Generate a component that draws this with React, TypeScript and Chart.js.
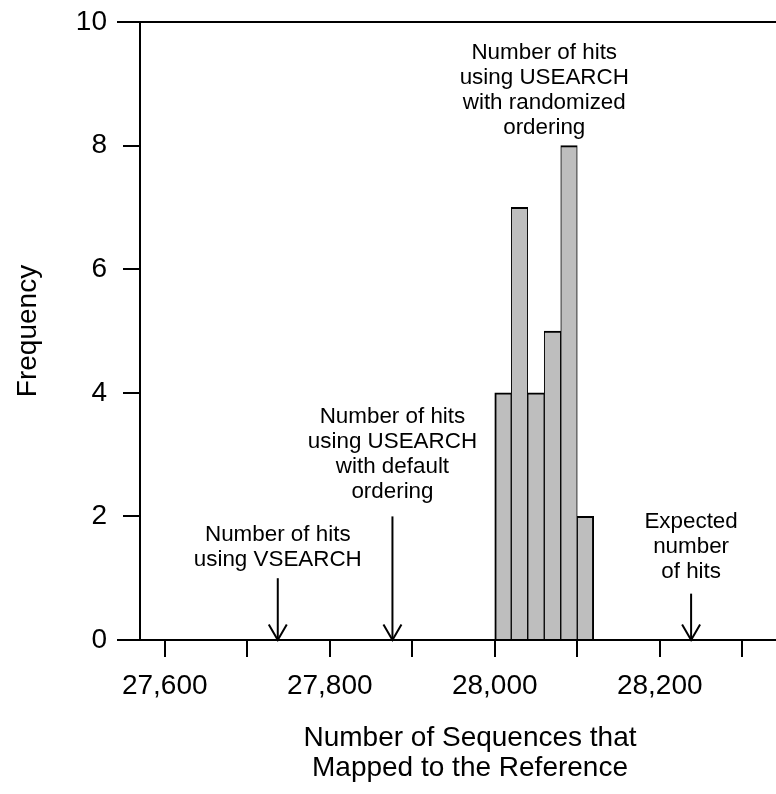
import React, { useEffect, useRef } from "react";
import { Chart, registerables } from "chart.js";

Chart.register(...registerables);

// ---- data ----
const BIN_CENTERS = [28010, 28030, 28050, 28070, 28090, 28110];
const FREQUENCIES = [4, 7, 4, 5, 8, 2];
const X_TICKS = [27600, 27700, 27800, 27900, 28000, 28100, 28200, 28300];
const X_TICK_LABELS = ["27,600", "", "27,800", "", "28,000", "", "28,200", ""];
const Y_TICKS = [0, 2, 4, 6, 8, 10];
const X_MIN = 27570;
const X_MAX = 28370;
const Y_MIN = 0;
const Y_MAX = 10;

const X_TITLE = ["Number of Sequences that", "Mapped to the Reference"];
const Y_TITLE = "Frequency";

const ANNOT_X = [27737, 27876, 28060, 28238];
const ANNOT_TEXT_Y = [1.5, 3.0, 8.9, 1.5];
const ARROW_TOP: (number | null)[] = [1, 2, null, 0.75];
const ANNOT_LINES = [
  ["Number of hits", "using VSEARCH"],
  ["Number of hits", "using USEARCH", "with default", "ordering"],
  ["Number of hits", "using USEARCH", "with randomized", "ordering"],
  ["Expected", "number", "of hits"],
];

const FONT = "'Liberation Sans', Arial, Helvetica, sans-serif";

const annotationPlugin = {
  id: "histAnnotations",
  afterDatasetsDraw(chart: any) {
    const { ctx, chartArea } = chart;
    const xs = chart.scales.x;
    const ys = chart.scales.y;
    ctx.save();
    ctx.strokeStyle = "#000";
    ctx.fillStyle = "#000";
    ctx.lineWidth = 2;
    // frame lines at bottom and top
    [Y_MIN, Y_MAX].forEach((v) => {
      const py = ys.getPixelForValue(v);
      ctx.beginPath();
      ctx.moveTo(chartArea.left - 23, py);
      ctx.lineTo(chartArea.right, py);
      ctx.stroke();
    });
    // arrows
    const y0 = ys.getPixelForValue(0);
    ANNOT_X.forEach((xv, i) => {
      const top = ARROW_TOP[i];
      const px = xs.getPixelForValue(xv);
      if (top !== null) {
        const py = ys.getPixelForValue(top);
        ctx.beginPath();
        ctx.moveTo(px, py);
        ctx.lineTo(px, y0);
        ctx.stroke();
        const len = 18;
        const ang = Math.PI / 6;
        ctx.beginPath();
        ctx.moveTo(px - len * Math.sin(ang), y0 - len * Math.cos(ang));
        ctx.lineTo(px, y0);
        ctx.lineTo(px + len * Math.sin(ang), y0 - len * Math.cos(ang));
        ctx.stroke();
      }
      // text
      const lines = ANNOT_LINES[i];
      const c = ys.getPixelForValue(ANNOT_TEXT_Y[i]);
      const lh = 25;
      ctx.font = `22.4px ${FONT}`;
      ctx.textAlign = "center";
      ctx.textBaseline = "middle";
      lines.forEach((t, j) => {
        ctx.fillText(t, px, c + (j - (lines.length - 1) / 2) * lh);
      });
    });
    ctx.restore();
  },
};

export default function App() {
  const ref = useRef<HTMLCanvasElement | null>(null);

  useEffect(() => {
    if (!ref.current) return;
    const chart = new Chart(ref.current, {
      type: "bar",
      data: {
        datasets: [
          {
            data: BIN_CENTERS.map((x, i) => ({ x, y: FREQUENCIES[i] })),
            backgroundColor: "#bebebe",
            borderColor: "#000000",
            borderWidth: (ctx: any) => ({
              top: 2,
              bottom: 0,
              left: ctx.dataIndex === 0 ? 2 : 1,
              right: ctx.dataIndex === FREQUENCIES.length - 1 ? 2 : 1,
            }),
            borderSkipped: false,
            barPercentage: 1,
            categoryPercentage: 1,
            grouped: false,
          } as any,
        ],
      },
      options: {
        animation: false,
        responsive: false,
        maintainAspectRatio: false,
        layout: { padding: { left: 0, right: 30, top: 22, bottom: 0 } },
        plugins: {
          legend: { display: false },
          tooltip: { enabled: false },
          title: { display: false },
        },
        scales: {
          x: {
            type: "linear",
            min: X_MIN,
            max: X_MAX,
            offset: false,
            afterBuildTicks: (scale: any) => {
              scale.ticks = X_TICKS.map((v) => ({ value: v }));
            },
            afterFit: (scale: any) => {
              scale.height = 154;
            },
            grid: {
              display: true,
              offset: false,
              drawOnChartArea: false,
              drawTicks: true,
              tickLength: 17,
              tickWidth: 2,
              tickColor: "#000",
              color: "#000",
              lineWidth: 2,
            },
            border: { display: true, color: "#000", width: 2 },
            ticks: {
              autoSkip: false,
              maxRotation: 0,
              minRotation: 0,
              padding: 12.5,
              color: "#000",
              font: { family: FONT, size: 28, lineHeight: 1.2 },
              callback: (_v: any, i: number) => X_TICK_LABELS[i],
            },
            title: {
              display: true,
              text: X_TITLE,
              color: "#000",
              font: { family: FONT, size: 28, lineHeight: 1.09 },
              padding: { top: 0, bottom: 10 },
            },
          } as any,
          y: {
            type: "linear",
            min: Y_MIN,
            max: Y_MAX,
            afterBuildTicks: (scale: any) => {
              scale.ticks = Y_TICKS.map((v) => ({ value: v }));
            },
            afterFit: (scale: any) => {
              scale.width = 140;
              scale.paddingTop = 0;
              scale.paddingBottom = 0;
            },
            grid: {
              display: true,
              drawOnChartArea: false,
              drawTicks: true,
              tickLength: 17,
              tickWidth: 2,
              tickColor: "#000",
              color: "#000",
              lineWidth: 2,
            },
            border: { display: true, color: "#000", width: 2 },
            ticks: {
              padding: 16,
              color: "#000",
              font: { family: FONT, size: 28, lineHeight: 0.4 },
            },
            title: {
              display: true,
              text: Y_TITLE,
              color: "#000",
              font: { family: FONT, size: 28, lineHeight: 1.09 },
              padding: { top: 13, bottom: 0 },
            },
          } as any,
        },
      },
      plugins: [annotationPlugin],
    });
    return () => chart.destroy();
  }, []);

  return (
    <div
      style={{
        position: "fixed",
        left: 0,
        top: 0,
        width: 776,
        height: 794,
        overflow: "hidden",
        background: "#fff",
      }}
    >
      <canvas ref={ref} width={830} height={794} style={{ display: "block" }} />
    </div>
  );
}
